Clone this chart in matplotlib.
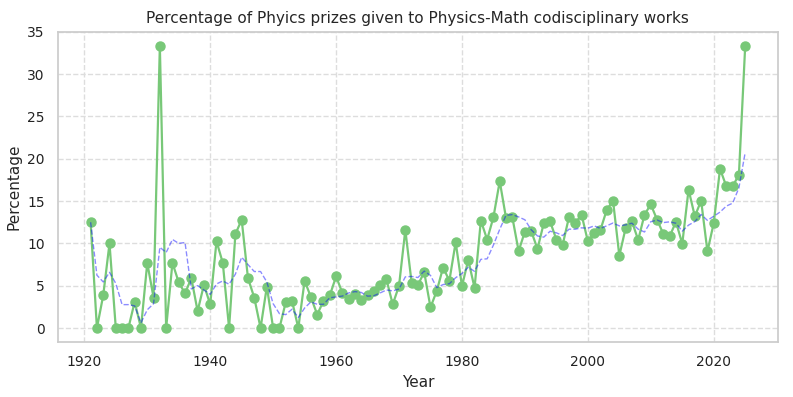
import matplotlib
matplotlib.use("Agg")
import matplotlib.pyplot as plt
import numpy as np
import pandas as pd
import seaborn as sns

years = list(range(1921, 2026))
percentages = [
    12.5, 0.0, 3.85, 10.0, 0.0, 0.0, 0.0, 3.1, 0.0, 7.7,      # 1921-1930
    3.6, 33.33, 0.0, 7.7, 5.4, 4.1, 5.9, 2.0, 5.1, 2.8,       # 1931-1940
    10.25, 7.7, 0.0, 11.1, 12.8, 5.9, 3.6, 0.0, 4.9, 0.0,     # 1941-1950
    0.0, 3.05, 3.2, 0.0, 5.6, 3.65, 1.6, 3.2, 3.85, 6.1,      # 1951-1960
    4.15, 3.45, 4.0, 3.35, 3.9, 4.4, 5.1, 5.75, 2.8, 5.0,     # 1961-1970
    11.6, 5.35, 5.1, 6.6, 2.45, 4.4, 7.15, 5.6, 10.15, 4.95,  # 1971-1980
    8.05, 4.75, 12.7, 10.45, 13.1, 17.35, 13.0, 13.1, 9.1, 11.4,  # 1981-1990
    11.45, 9.35, 12.4, 12.6, 10.45, 9.85, 13.1, 12.4, 13.4, 10.25,  # 1991-2000
    11.2, 11.6, 13.95, 15.05, 8.55, 11.8, 12.6, 10.4, 13.4, 14.6,   # 2001-2010
    12.8, 11.1, 10.85, 12.55, 9.95, 16.35, 13.2, 15.05, 9.05, 12.4, # 2011-2020
    18.8, 16.75, 16.75, 18.1, 33.33,                                  # 2021-2025
]

sns.set_theme(style="whitegrid")
plt.rcParams['font.family'] = ['DejaVu Sans']

df = pd.DataFrame({"Year": years, "Percentage": percentages})
rolling = df["Percentage"].rolling(5, min_periods=1).mean()

fig, ax = plt.subplots(figsize=(7.93, 3.97), dpi=100)
ax.plot(df["Year"], df["Percentage"], marker="o", color="#78c878",
        linewidth=1.6, markersize=6.5)
ax.plot(df["Year"], rolling, linestyle="--", color="blue", alpha=0.45,
        linewidth=1.0)

ax.set_ylim(-1.67, 35.0)
ax.set_yticks([0, 5, 10, 15, 20, 25, 30, 35])
ax.grid(True, linestyle="--", color="#dddddd", linewidth=1.0)
for s in ax.spines.values():
    s.set_color("#cccccc")
ax.set_title("Percentage of Phyics prizes given to Physics-Math codisciplinary works", fontsize=11)
ax.set_xlabel("Year", fontsize=11)
ax.set_ylabel("Percentage", fontsize=11)
ax.tick_params(labelsize=10, labelcolor="#222222")

fig.subplots_adjust(left=0.073, right=0.981, top=0.92, bottom=0.138)
fig.savefig("out.png", dpi=100)
